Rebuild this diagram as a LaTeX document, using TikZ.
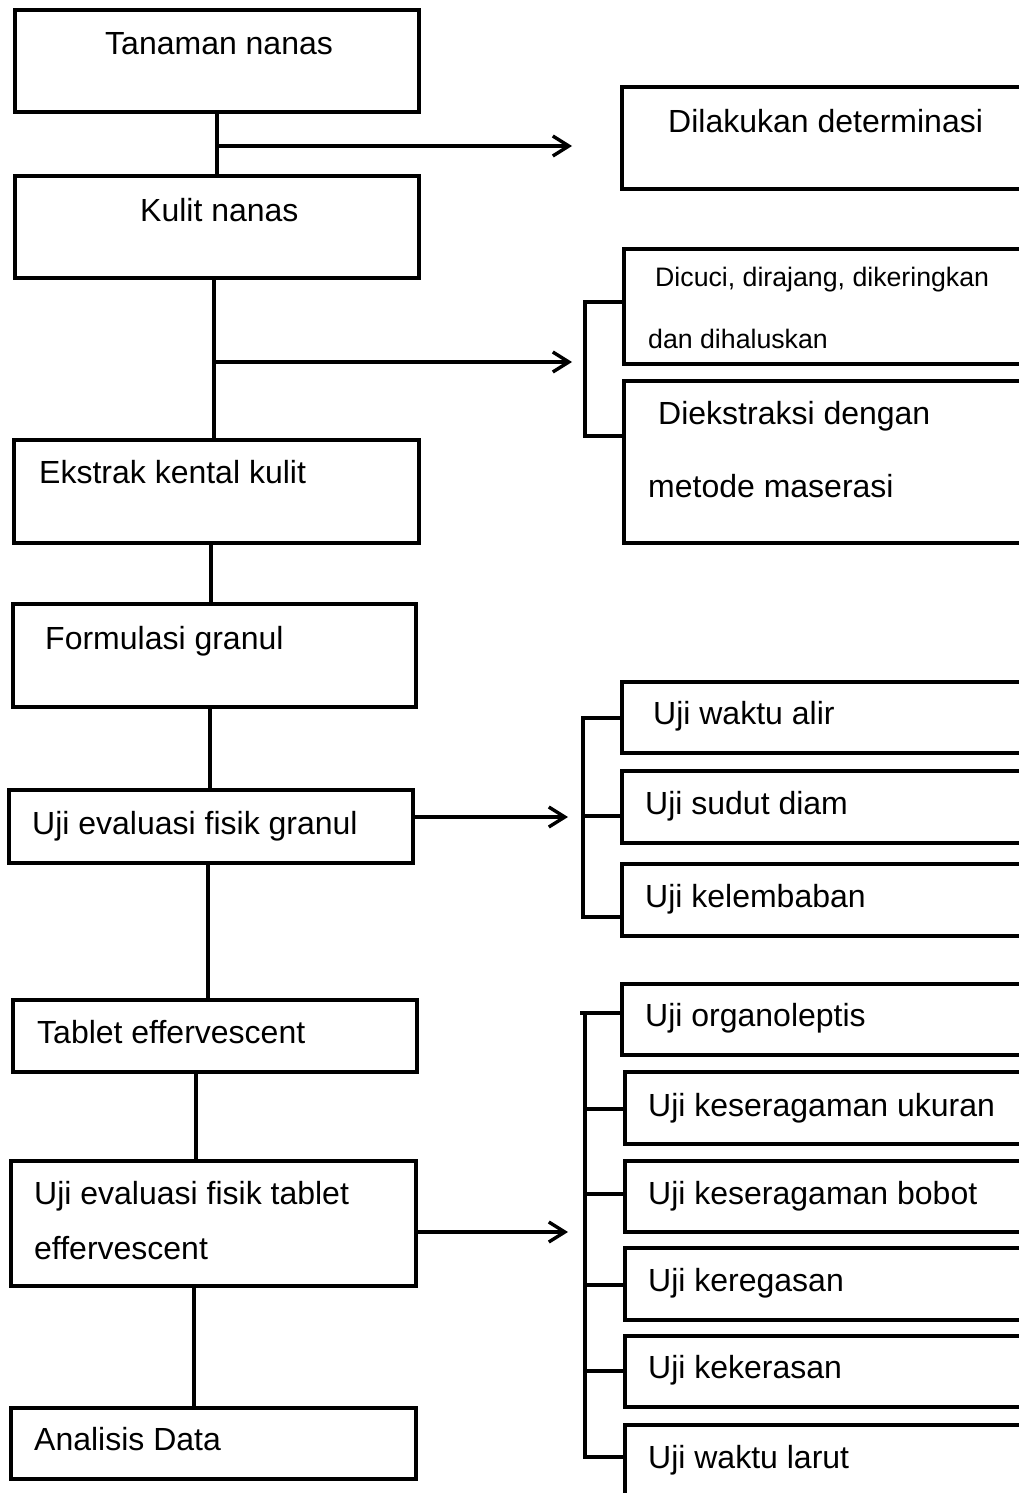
\documentclass[tikz,border=0pt]{standalone}
\usepackage{fontspec}
\setmainfont{Liberation Sans}
\usetikzlibrary{arrows.meta}
\begin{document}
\begin{tikzpicture}[x=1pt,y=-1pt,
  box/.style={draw,line width=4.6pt,anchor=north west,inner sep=0pt,outer sep=0pt},
  txt/.style={anchor=base west,inner sep=0pt,font=\fontsize{32}{36}\selectfont},
  stxt/.style={anchor=base west,inner sep=0pt,font=\fontsize{26.7}{30}\selectfont},
  conn/.style={line width=3.2pt,line join=miter},
  arr/.style={conn,-{Straight Barb[length=16pt,width=20pt,line width=3.4pt]}}]
\useasboundingbox (0,0) rectangle (1019,1493);
\clip (0,0) rectangle (1019,1493);
\fill[white] (0,0) rectangle (1019,1493);

% left column boxes
\node[box,minimum width=404pt,minimum height=102pt] (b1) at (15,10) {};
\node[box,minimum width=404pt,minimum height=102pt] (b2) at (15,176) {};
\node[box,minimum width=405pt,minimum height=103pt] (b3) at (14,440) {};
\node[box,minimum width=403pt,minimum height=103pt] (b4) at (13,604) {};
\node[box,minimum width=404pt,minimum height=73pt] (b5) at (9,790) {};
\node[box,minimum width=404pt,minimum height=72pt] (b6) at (13,1000) {};
\node[box,minimum width=405pt,minimum height=125pt] (b7) at (11,1161) {};
\node[box,minimum width=405pt,minimum height=71pt] (b8) at (11,1408) {};

% right column boxes (cut off at the right edge)
\node[box,minimum width=450pt,minimum height=102pt] (r1) at (622,87) {};
\node[box,minimum width=450pt,minimum height=115pt] (r2) at (624,249) {};
\node[box,minimum width=450pt,minimum height=162pt] (r3) at (624,381) {};
\node[box,minimum width=450pt,minimum height=71pt] (r4) at (622,682) {};
\node[box,minimum width=450pt,minimum height=72pt] (r5) at (622,771) {};
\node[box,minimum width=450pt,minimum height=72pt] (r6) at (622,864) {};
\node[box,minimum width=450pt,minimum height=71pt] (r7) at (622,984) {};
\node[box,minimum width=450pt,minimum height=72pt] (r8) at (625,1072) {};
\node[box,minimum width=450pt,minimum height=71pt] (r9) at (625,1161) {};
\node[box,minimum width=450pt,minimum height=72pt] (r10) at (625,1248) {};
\node[box,minimum width=450pt,minimum height=71pt] (r11) at (625,1336) {};
\node[box,minimum width=450pt,minimum height=100pt] (r12) at (625,1425) {};

% texts
\node[txt] (t1) at (105,55) {Tanaman nanas};
\node[txt] (t2) at (668,132) {Dilakukan determinasi};
\node[txt] (t3) at (140,221) {Kulit nanas};
\node[stxt] (t4) at (655,286) {Dicuci, dirajang, dikeringkan};
\node[stxt] (t5) at (648,348) {dan dihaluskan};
\node[txt] (t6) at (658,424) {Diekstraksi dengan};
\node[txt] (t7) at (648,497) {metode maserasi};
\node[txt] (t8) at (39,483) {Ekstrak kental kulit};
\node[txt] (t9) at (45,649) {Formulasi granul};
\node[txt] (t10) at (653,724) {Uji waktu alir};
\node[txt] (t11) at (32,834) {Uji evaluasi fisik granul};
\node[txt] (t12) at (645,814) {Uji sudut diam};
\node[txt] (t13) at (645,907) {Uji kelembaban};
\node[txt] (t14) at (37,1043) {Tablet effervescent};
\node[txt] (t15) at (645,1026) {Uji organoleptis};
\node[txt] (t16) at (648,1116) {Uji keseragaman ukuran};
\node[txt] (t17) at (34,1204) {Uji evaluasi fisik tablet};
\node[txt] (t18) at (34,1259) {effervescent};
\node[txt] (t19) at (648,1204) {Uji keseragaman bobot};
\node[txt] (t20) at (648,1291) {Uji keregasan};
\node[txt] (t21) at (648,1378) {Uji kekerasan};
\node[txt] (t22) at (34,1450) {Analisis Data};
\node[txt] (t23) at (648,1468) {Uji waktu larut};

% junction and arrow-end coordinates
\coordinate (j1) at (217,146);  \coordinate (e1) at (572,146);
\coordinate (j2) at (214,362);  \coordinate (e2) at (572,362);
\coordinate (v3) at (211,0);
\coordinate (v4) at (210,0);
\coordinate (e3) at (568,817);
\coordinate (v5) at (208,0);
\coordinate (v6) at (196,0);
\coordinate (e4) at (568,1232);
\coordinate (v7) at (194,0);

% main vertical connectors
\draw[conn] (b1.south -| j1) -- (b2.north -| j1);
\draw[conn] (b2.south -| j2) -- (b3.north -| j2);
\draw[conn] (b3.south -| v3) -- (b4.north -| v3);
\draw[conn] (b4.south -| v4) -- (b5.north -| v4);
\draw[conn] (b5.south -| v5) -- (b6.north -| v5);
\draw[conn] (b6.south -| v6) -- (b7.north -| v6);
\draw[conn] (b7.south -| v7) -- (b8.north -| v7);

% arrows
\draw[arr] (j1) -- (e1);
\draw[arr] (j2) -- (e2);
\draw[arr] (b5.east |- e3) -- (e3);
\draw[arr] (b7.east |- e4) -- (e4);

% bracket 1
\coordinate (k1a) at (585,302); \coordinate (k1b) at (585,436);
\draw[conn] (r2.west |- k1a) -- (k1a) -- (k1b) -- (r3.west |- k1b);

% bracket 2
\coordinate (k2a) at (583,718); \coordinate (k2b) at (583,816); \coordinate (k2c) at (583,917);
\draw[conn] (r4.west |- k2a) -- (k2a) -- (k2c) -- (r6.west |- k2c);
\draw[conn] (k2b) -- (r5.west |- k2b);

% bracket 3
\coordinate (k3s) at (580,1013);
\coordinate (k3a) at (585,1013); \coordinate (k3b) at (585,1109); \coordinate (k3c) at (585,1194);
\coordinate (k3d) at (585,1285); \coordinate (k3e) at (585,1371); \coordinate (k3f) at (585,1457);
\draw[conn] (k3s) -- (r7.west |- k3s);
\draw[conn] (k3a) -- (k3f) -- (r12.west |- k3f);
\draw[conn] (k3b) -- (r8.west |- k3b);
\draw[conn] (k3c) -- (r9.west |- k3c);
\draw[conn] (k3d) -- (r10.west |- k3d);
\draw[conn] (k3e) -- (r11.west |- k3e);
\end{tikzpicture}
\end{document}
